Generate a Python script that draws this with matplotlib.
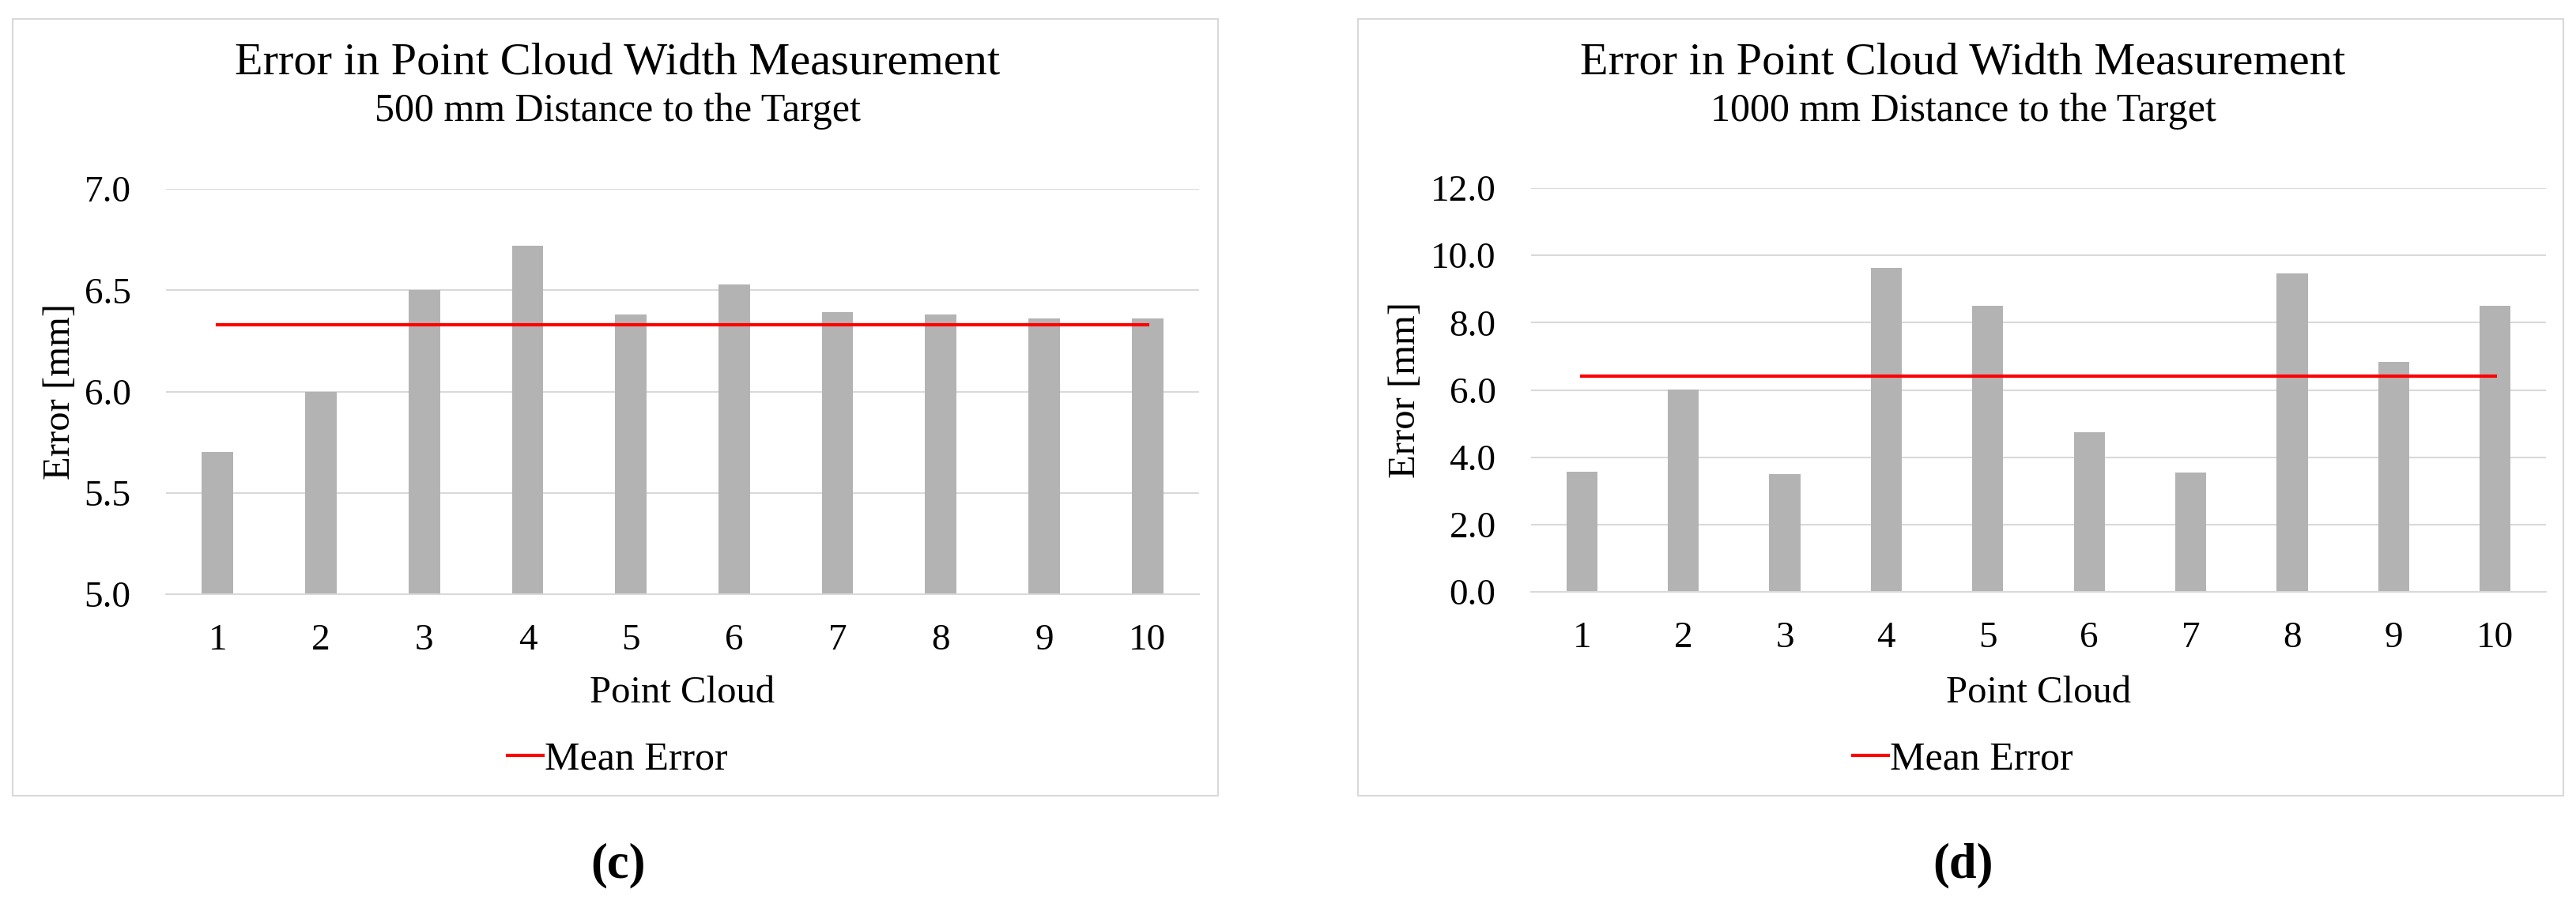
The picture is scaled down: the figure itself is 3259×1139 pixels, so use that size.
import matplotlib.pyplot as plt
from matplotlib.patches import Rectangle
from matplotlib.lines import Line2D

plt.rcParams['font.family'] = ['Liberation Serif', 'DejaVu Serif']

# data
points = [1, 2, 3, 4, 5, 6, 7, 8, 9, 10]
err_500 = [5.70, 6.00, 6.50, 6.72, 6.38, 6.53, 6.39, 6.38, 6.36, 6.36]
mean_500 = 6.33
err_1000 = [3.56, 6.02, 3.50, 9.63, 8.49, 4.74, 3.55, 9.46, 6.83, 8.49]
mean_1000 = 6.42

title = 'Error in Point Cloud Width Measurement'
subtitles = ['500 mm Distance to the Target', '1000 mm Distance to the Target']
panel_tags = ['(c)', '(d)']

W, H = 3259, 1139
fig = plt.figure(figsize=(W / 100, H / 100), dpi=100)

bar_col = '#b3b3b3'
grid_col = '#d9d9d9'


def px_axes(x0, y0, x1, y1):
    # pixel box (top-left origin) -> figure axes
    return fig.add_axes([x0 / W, 1 - y1 / H, (x1 - x0) / W, (y1 - y0) / H])


def panel(box, axbox, vals, mean, ylim, yticks, sub, tag, ylab_x, ytick_pad):
    bx0, by0, bx1, by1 = box
    cx = (bx0 + bx1) / 2 + 3
    fig.patches.append(Rectangle((bx0 / W, 1 - by1 / H), (bx1 - bx0) / W, (by1 - by0) / H,
                                 transform=fig.transFigure, fill=False,
                                 edgecolor=grid_col, lw=1.5))
    fig.text(cx / W, 1 - 93 / H, title, ha='center', va='baseline', fontsize=42)
    fig.text(cx / W, 1 - 153 / H, sub, ha='center', va='baseline', fontsize=36)
    fig.text(cx / W, 1 - 1095 / H, tag, ha='center', va='center', fontsize=45,
             fontweight='bold')

    ax = px_axes(*axbox)
    ax.bar(points, vals, width=0.305, color=bar_col, zorder=2)
    ax.plot(points, [mean] * len(points), color='#ff0000', lw=3, zorder=3)
    ax.set_xlim(0.5, 10.5)
    ax.set_ylim(*ylim)
    ax.set_yticks(yticks)
    ax.set_yticklabels([f'{t:.1f}' for t in yticks])
    ax.set_xticks(points)
    ax.grid(axis='y', color=grid_col, lw=1.5, zorder=0)
    for s in ['top', 'right', 'left']:
        ax.spines[s].set_visible(False)
    ax.spines['bottom'].set_color(grid_col)
    ax.spines['bottom'].set_linewidth(1.5)
    ax.tick_params(length=0, labelsize=34)
    ax.tick_params(axis='y', pad=ytick_pad)
    ax.tick_params(axis='x', pad=27)

    ax.set_xlabel('Point Cloud', fontsize=35)
    ax.set_ylabel('Error [mm]', fontsize=35)
    ax_h = axbox[3] - axbox[1]
    ax_w = axbox[2] - axbox[0]
    ax.xaxis.label.set_va('center')
    ax.xaxis.set_label_coords(0.5, (axbox[3] - 877) / ax_h)
    ax.yaxis.label.set_va('center')
    ax.yaxis.set_label_coords((ylab_x - axbox[0]) / ax_w, 0.5)

    handle = Line2D([], [], color='#ff0000', lw=3)
    fig.legend([handle], ['Mean Error'], loc='center',
               bbox_to_anchor=(cx / W, 1 - 961 / H), frameon=False,
               fontsize=36, handlelength=0.9, handletextpad=0.05)
    return ax


panel((16, 24, 1541, 1007), (210, 239, 1517, 752), err_500, mean_500,
      (5.0, 7.0), [5.0, 5.5, 6.0, 6.5, 7.0], subtitles[0], panel_tags[0], 76, 32)
panel((1718, 24, 3243, 1007), (1937, 238, 3221, 749), err_1000, mean_1000,
      (0.0, 12.0), [0, 2, 4, 6, 8, 10, 12], subtitles[1], panel_tags[1], 1778, 32)

fig.savefig('out.png', dpi=100)
